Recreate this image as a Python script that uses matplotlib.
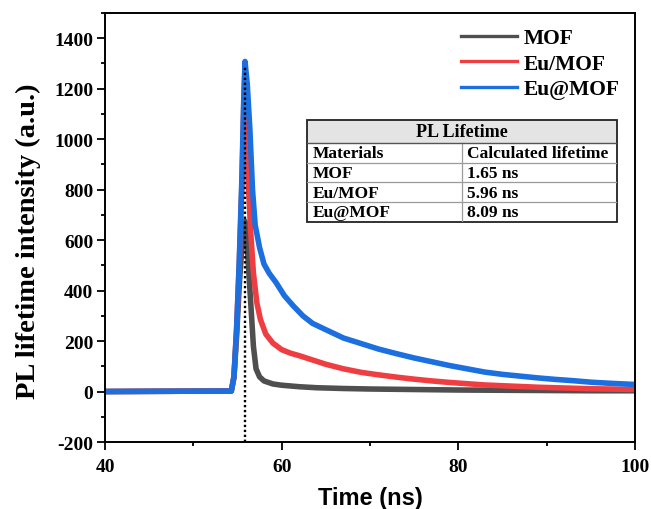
import matplotlib
matplotlib.use('Agg')
import matplotlib.pyplot as plt
from matplotlib.ticker import MultipleLocator
from matplotlib.patches import Rectangle

plt.rcParams['axes.unicode_minus'] = False

# decay curves (time in ns, intensity in a.u.)
t_mof = [40, 54.3, 54.6, 54.9, 55.2, 55.5, 55.7, 55.85, 56.0, 56.2, 56.5, 56.8, 57.1, 57.5,
         58, 59, 60, 62, 64, 67, 70, 75, 80, 85, 90, 95, 100]
i_mof = [0, 2, 55, 220, 420, 580, 650, 675, 640, 520, 350, 180, 90, 58,
         42, 30, 25, 19, 15, 12, 10, 8, 6, 5, 4, 3, 3]

t_eu = [40, 54.3, 54.6, 54.9, 55.2, 55.5, 55.7, 55.85, 56.0, 56.2, 56.5, 56.8, 57.2, 57.6,
        58.2, 59, 60, 61, 62, 63.5, 65, 67, 69, 71, 73, 75, 77, 79, 81, 83, 85, 87, 89,
        91, 93, 95, 97, 100]
i_eu = [0, 2, 60, 250, 500, 820, 1120, 1285, 1080, 840, 630, 470, 350, 285,
        228, 192, 166, 152, 142, 125, 108, 90, 76, 66, 57, 49, 42, 36, 31, 26, 23, 20, 17,
        15, 13, 11, 10, 8]

t_eu_at = [40, 54.3, 54.6, 54.9, 55.2, 55.5, 55.7, 55.85, 56.1, 56.4, 56.7, 57.0, 57.5,
           58.0, 58.6, 59.4, 60.3, 61.3, 62.4, 63.5, 65, 67, 69, 71, 73, 75, 77, 79, 81,
           83, 85, 87, 89, 91, 93, 95, 97, 100]
i_eu_at = [0, 2, 60, 250, 520, 850, 1150, 1308, 1220, 1040, 800, 660, 570,
           505, 468, 430, 380, 340, 300, 270, 245, 212, 190, 168, 150, 133, 118, 103, 90,
           77, 68, 61, 54, 48, 43, 37, 33, 28]

labels = ['MOF', 'Eu/MOF', 'Eu@MOF']
colors = ['#4f4f4f', '#ef3e42', '#1c6fdf']
peak_t = 55.85
peak_top = 1290

table_head = 'PL Lifetime'
table_rows = [['Materials', 'Calculated lifetime'],
              ['MOF', '1.65 ns'],
              ['Eu/MOF', '5.96 ns'],
              ['Eu@MOF', '8.09 ns']]

serif = ['Liberation Serif', 'DejaVu Serif']

fig = plt.figure(figsize=(6.51, 5.10), dpi=100)
ax = fig.add_axes([105 / 651, 1 - 443 / 510, 530 / 651, 429 / 510])

for t, y, lab, c in zip([t_mof, t_eu, t_eu_at], [i_mof, i_eu, i_eu_at], labels, colors):
    ax.plot(t, y, color=c, lw=4, label=lab, solid_joinstyle='round')

ax.plot([peak_t, peak_t], [-200, peak_top], color='black', lw=1.7, ls=(0, (1, 1.1)), zorder=5)

ax.set_xlim(40, 100)
ax.set_ylim(-200, 1500)
ax.xaxis.set_major_locator(MultipleLocator(20))
ax.xaxis.set_minor_locator(MultipleLocator(10))
ax.yaxis.set_major_locator(MultipleLocator(200))
ax.yaxis.set_minor_locator(MultipleLocator(100))
ax.tick_params(which='both', direction='out', width=1.3, top=False, right=False)
ax.tick_params(which='major', length=5.5)
ax.tick_params(which='minor', length=3)
ax.tick_params(axis='x', pad=6)
ax.tick_params(axis='y', pad=3)
for s in ax.spines.values():
    s.set_linewidth(1.4)
for lbl in ax.get_xticklabels() + ax.get_yticklabels():
    lbl.set_family(serif)
    lbl.set_fontweight('bold')
    lbl.set_fontsize(14)

ax.set_xlabel('Time (ns)', family=['Liberation Sans', 'DejaVu Sans'], fontweight='bold',
              fontsize=17, labelpad=8)
ax.set_ylabel('PL lifetime intensity (a.u.)', family=serif, fontweight='bold',
              fontsize=20.5, labelpad=4)
ax.yaxis.set_label_coords(-0.12, 0.47)

leg = ax.legend(loc='upper right', frameon=False, handlelength=2.6, handletextpad=0.3,
                labelspacing=0.25, borderaxespad=0.3,
                prop={'family': serif, 'weight': 'bold', 'size': 15.5})
for h in leg.get_lines():
    h.set_linewidth(2.4)

# lifetime table, drawn in pixel-like units
tab = fig.add_axes([306.7 / 651, 1 - 222.7 / 510, 310 / 651, 101.7 / 510])
tab.set_xlim(0, 310)
tab.set_ylim(101.7, 0)
tab.axis('off')
head_h = 23
row_h = (101.7 - head_h) / len(table_rows)
col_x = 155.3
tab.add_patch(Rectangle((0, 0), 310, head_h, facecolor='#e4e4e4', edgecolor='none'))
for k in range(1, len(table_rows)):
    y = head_h + k * row_h
    tab.plot([0, 310], [y, y], color='#9a9a9a', lw=0.9)
tab.plot([col_x, col_x], [head_h, 101.7], color='#9a9a9a', lw=0.9)
tab.plot([0, 310], [head_h, head_h], color='#555555', lw=1.0)
tab.add_patch(Rectangle((0, 0), 310, 101.7, facecolor='none', edgecolor='#222222',
                        lw=1.3, clip_on=False))
tab.text(155, head_h / 2 + 0.5, table_head, ha='center', va='center', family=serif,
         fontweight='bold', fontsize=13)
for k, (a, b) in enumerate(table_rows):
    y = head_h + (k + 0.5) * row_h + 0.5
    tab.text(6, y, a, ha='left', va='center', family=serif, fontweight='bold', fontsize=12.5)
    tab.text(col_x + 5, y, b, ha='left', va='center', family=serif, fontweight='bold',
             fontsize=12.5)

fig.savefig('out.png', dpi=100)
